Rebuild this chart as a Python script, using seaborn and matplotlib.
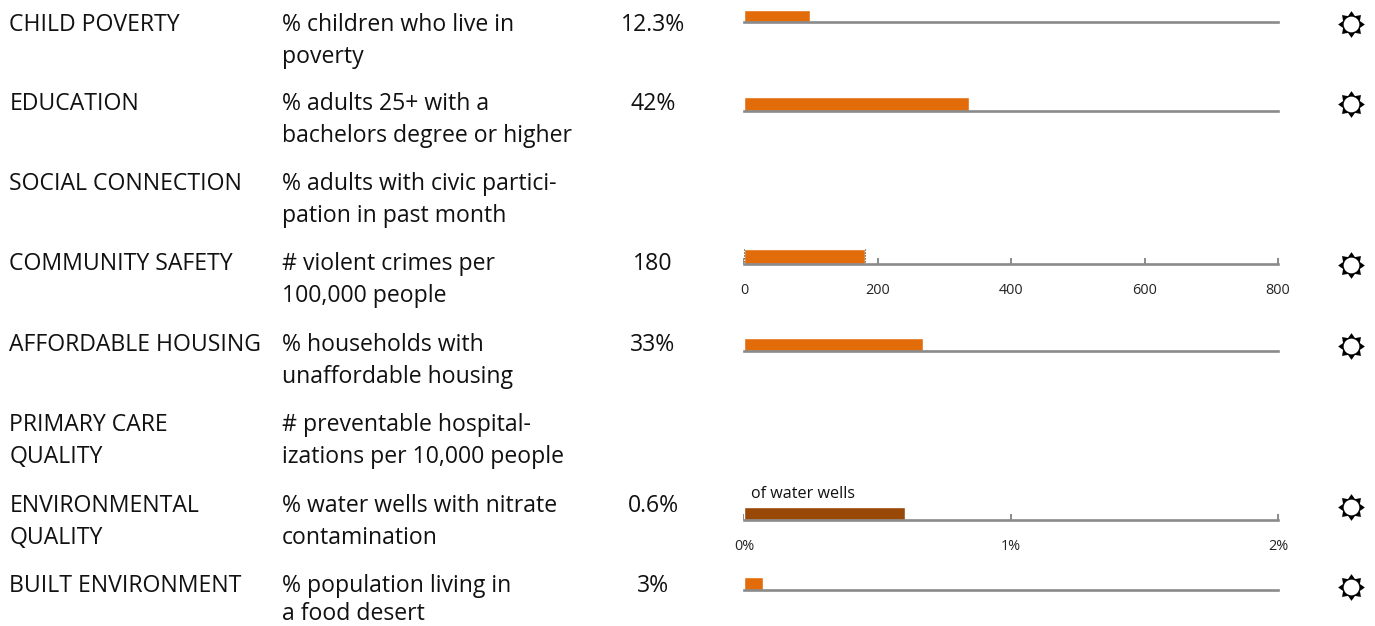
import matplotlib
matplotlib.use("Agg")
import matplotlib.pyplot as plt
from matplotlib.path import Path
import pandas as pd
import seaborn as sns

W, H = 1375, 626
categories = [["CHILD POVERTY"], ["EDUCATION"], ["SOCIAL CONNECTION"], ["COMMUNITY SAFETY"],
              ["AFFORDABLE HOUSING"], ["PRIMARY CARE", "QUALITY"], ["ENVIRONMENTAL", "QUALITY"],
              ["BUILT ENVIRONMENT"]]
measures = [["% children who live in", "poverty"], ["% adults 25+ with a", "bachelors degree or higher"],
            ["% adults with civic partici-", "pation in past month"], ["# violent crimes per", "100,000 people"],
            ["% households with", "unaffordable housing"], ["# preventable hospital-", "izations per 10,000 people"],
            ["% water wells with nitrate", "contamination"], ["% population living in", "a food desert"]]
value_labels = ["12.3%", "42%", "", "180", "33%", "", "0.6%", "3%"]
values = [12.3, 42, None, 180, 33.5, None, 0.6, 3.4]
axis_max = [100, 100, None, 800, 100, None, 2, 100]
tick_vals = [[], [], None, [0, 200, 400, 600, 800], [], None, [0, 1, 2], []]
tick_text = [[], [], None, ["0", "200", "400", "600", "800"], [], None, ["0%", "1%", "2%"], []]

# layout (pixels)
row_y = [31, 110, 190, 270, 351, 431, 512, 592]
line_gap = [32, 32, 32, 32, 32, 32, 32, 28]
axis_y = [22.3, 110.5, None, 264, 351.3, None, 520, 590]
icon_y = [24, 104, None, 265, 346, None, 506.5, 587]
bar_h = [12, 13.5, None, 15, 13.3, None, 13, 13]
bar_colors = ["#E36C0A", "#E36C0A", None, "#E36C0A", "#E36C0A", None, "#984807", "#E36C0A"]

sns.set_theme(style="white")
plt.rcParams["font.family"] = ["Open Sans", "DejaVu Sans"]
fig = plt.figure(figsize=(W / 100, H / 100), dpi=100)
bg = fig.add_axes([0, 0, 1, 1])
bg.set_xlim(0, W); bg.set_ylim(H, 0); bg.axis("off")

FS = 16.6
for i in range(8):
    for j, s in enumerate(categories[i]):
        bg.text(9.5, row_y[i] + j * line_gap[i], s, fontsize=FS, va="baseline", ha="left", color="#111111")
    for j, s in enumerate(measures[i]):
        bg.text(282, row_y[i] + j * line_gap[i], s, fontsize=FS, va="baseline", ha="left", color="#111111")
    if value_labels[i]:
        bg.text(653, row_y[i], value_labels[i], fontsize=FS, va="baseline", ha="center", color="#111111")

sun = Path.unit_regular_star(8, innerCircle=0.68)
x0, x1 = 744.5, 1278
for i in range(8):
    if values[i] is None:
        continue
    ax = fig.add_axes([x0 / W, 1 - axis_y[i] / H, (x1 - x0) / W, bar_h[i] / H])
    df = pd.DataFrame({"cat": [categories[i][0]], "val": [values[i]]})
    sns.barplot(data=df, x="val", y="cat", orient="h", color=bar_colors[i], saturation=1, width=1, ax=ax)
    ax.set_xlim(0, axis_max[i]); ax.set_ylim(0.5, -0.5)
    ax.set_xlabel(""); ax.set_ylabel(""); ax.set_yticks([])
    ax.patch.set_alpha(0)
    for s in ["top", "left", "right"]:
        ax.spines[s].set_visible(False)
    ax.spines["bottom"].set_color("#8A8A8A"); ax.spines["bottom"].set_linewidth(1.9)
    ax.spines["bottom"].set_zorder(5)
    ax.set_xticks(tick_vals[i])
    ax.set_xticklabels(tick_text[i], fontsize=10.4, color="#222222")
    ax.tick_params(axis="x", direction="in", length=4, width=1.4, color="#8A8A8A", pad=14, bottom=True)
    if tick_vals[i] and axis_max[i] == 800:
        ax.vlines([0, values[i]], -0.5, 0.5, colors="#333333", linestyles=":", linewidth=0.8, zorder=6)
    # icon
    bg.scatter([1351], [icon_y[i]], marker=sun, s=370, color="black", zorder=3, linewidths=0)
    bg.scatter([1351], [icon_y[i]], marker="o", s=128, color="white", linewidths=0, zorder=4)

bg.text(751, 494, "of water wells", fontsize=11.6, va="center", ha="left", color="#111111")
fig.savefig("out.png", dpi=100, facecolor="white")
